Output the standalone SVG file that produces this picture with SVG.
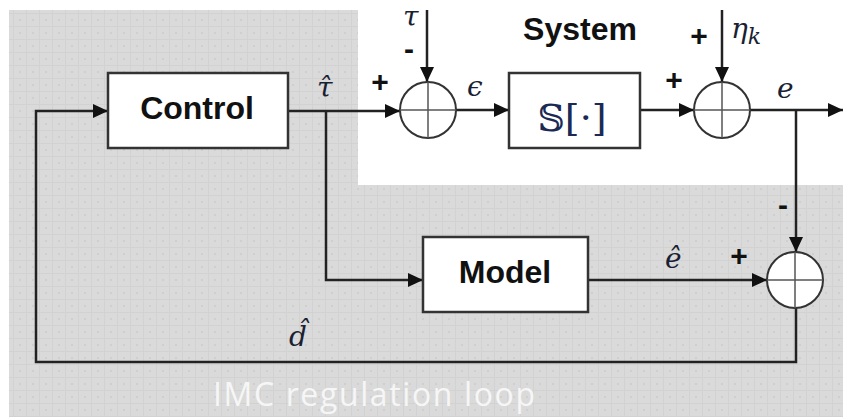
<svg xmlns="http://www.w3.org/2000/svg" width="843" height="417" viewBox="0 0 843 417">
<style>
.ln{fill:none;stroke:#222;stroke-width:2.5}
.box{fill:#fff;stroke:#333;stroke-width:2.5}
.sum{fill:#fff;stroke:#333;stroke-width:2}
.cross{stroke:#555;stroke-width:1.5}
.lbl{font-family:"Liberation Sans",Arial,sans-serif;font-weight:bold;font-size:32px;fill:#111;text-anchor:middle}
.sg{font-family:"Liberation Sans",Arial,sans-serif;font-weight:bold;font-size:30px;fill:#111;text-anchor:middle}
.m{font-family:"DejaVu Serif","Liberation Serif",serif;font-style:italic;font-size:28px;fill:#1a1f33}
</style>
<defs>
<pattern id="dots" width="13" height="13" patternUnits="userSpaceOnUse">
<rect width="13" height="13" fill="#dadada"/>
<rect x="0" y="0" width="13" height="1" fill="#d2d2d2"/>
<rect x="0" y="0" width="1" height="13" fill="#d2d2d2"/>
<rect x="6" y="6" width="2" height="2" fill="#cfcfcf"/>
</pattern>
<marker id="ah" markerUnits="userSpaceOnUse" markerWidth="16" markerHeight="14" refX="15" refY="7" orient="auto">
<path d="M0,0 L15,7 L0,14 Z" fill="#111"/>
</marker>
</defs>
<rect width="843" height="417" fill="#fff"/>
<path d="M9,10 H358 V185 H843 V417 H9 Z" fill="url(#dots)"/>
<text x="213" y="406" font-family="'Open Sans','Liberation Sans',sans-serif" font-size="32" fill="#f6f6f6" textLength="322">IMC regulation loop</text>

<g id="connectors">
<path class="ln" d="M796,308 V362 H36 V111 H108" marker-end="url(#ah)"/>
<path class="ln" d="M288,111 H400" marker-end="url(#ah)"/>
<path class="ln" d="M326,111 V280 H423" marker-end="url(#ah)"/>
<path class="ln" d="M427,10 V82" marker-end="url(#ah)"/>
<path class="ln" d="M456,110 H509" marker-end="url(#ah)"/>
<path class="ln" d="M640,110 H694" marker-end="url(#ah)"/>
<path class="ln" d="M722,10 V82" marker-end="url(#ah)"/>
<path class="ln" d="M750,110 H843" marker-end="url(#ah)"/>
<path class="ln" d="M796,110 V252" marker-end="url(#ah)"/>
<path class="ln" d="M588,280 H767" marker-end="url(#ah)"/>
</g>

<g id="control">
<rect class="box" x="108" y="73" width="180" height="75"/>
<text class="lbl" x="197" y="119">Control</text>
</g>
<g id="model">
<rect class="box" x="423" y="237" width="165" height="75"/>
<text class="lbl" x="505" y="283">Model</text>
</g>
<g id="system">
<rect class="box" x="509" y="73" width="131" height="75"/>
<text x="572" y="131" font-family="'DejaVu Serif','DejaVu Sans',serif" font-size="38" fill="#1b2a55" text-anchor="middle">𝕊[·]</text>
<text class="lbl" x="580" y="40" font-size="31">System</text>
</g>
<g id="sum1">
<circle class="sum" cx="428" cy="110" r="28"/>
<path class="cross" d="M400,110 H456 M428,82 V138"/>
</g>
<g id="sum2">
<circle class="sum" cx="722" cy="110" r="28"/>
<path class="cross" d="M694,110 H750 M722,82 V138"/>
</g>
<g id="sum3">
<circle class="sum" cx="795" cy="280" r="28"/>
<path class="cross" d="M767,280 H823 M795,252 V308"/>
</g>

<g id="labels">
<text class="m" x="403" y="26" font-size="26">τ</text>
<text class="sg" x="409" y="59" font-size="18">-</text>
<text class="m" x="317" y="97">τ̂</text>
<text class="sg" x="380" y="92">+</text>
<text class="m" x="467" y="96">ϵ</text>
<text class="sg" x="674" y="90">+</text>
<text class="sg" x="699" y="46">+</text>
<text class="m" x="731" y="38" font-size="30">η<tspan font-size="22" dy="6">k</tspan></text>
<text class="m" x="777" y="98">e</text>
<text class="sg" x="783" y="215">-</text>
<text class="sg" x="739" y="266">+</text>
<text class="m" x="665" y="268">ê</text>
<text class="m" x="289" y="346">d̂</text>
</g>
</svg>
